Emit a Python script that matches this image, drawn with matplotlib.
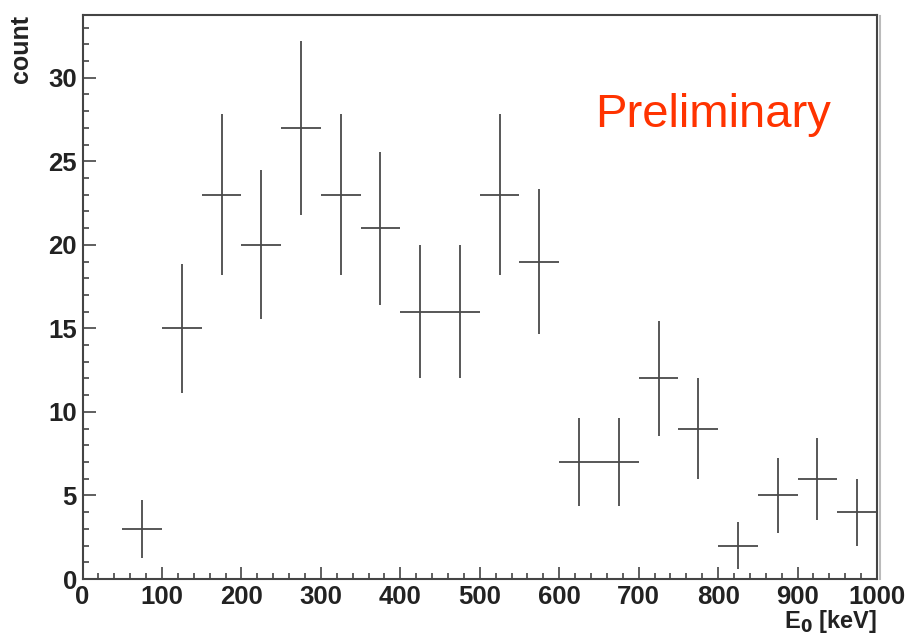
import matplotlib
matplotlib.use("Agg")
import matplotlib.pyplot as plt
from matplotlib.ticker import MultipleLocator

# bin centres [keV], counts, and errors
energy = [75, 125, 175, 225, 275, 325, 375, 425, 475, 525,
          575, 625, 675, 725, 775, 825, 875, 925, 975]
counts = [3, 15, 23, 20, 27, 23, 21, 16, 16, 23,
          19, 7, 7, 12, 9, 2, 5, 6, 4]
errors = [1.73, 3.87, 4.80, 4.47, 5.20, 4.80, 4.58, 4.00, 4.00, 4.80,
          4.36, 2.65, 2.65, 3.46, 3.00, 1.41, 2.24, 2.45, 2.00]
bin_half = [25] * len(energy)

plt.rcParams['font.family'] = ['Liberation Sans', 'DejaVu Sans']

fig = plt.figure(figsize=(9.06, 6.36), dpi=100)
ax = fig.add_axes([0.0911, 0.0896, 0.8769, 0.8868])

ax.errorbar(energy, counts, yerr=errors, xerr=bin_half, fmt='none',
            ecolor='#4a4a4a', elinewidth=1.3, capsize=0)

ax.set_xlim(0, 1000)
ax.set_ylim(0, 33.75)
ax.xaxis.set_major_locator(MultipleLocator(100))
ax.xaxis.set_minor_locator(MultipleLocator(20))
ax.yaxis.set_major_locator(MultipleLocator(5))
ax.yaxis.set_minor_locator(MultipleLocator(1))

ax.tick_params(which='both', direction='in', color='#444444', width=1.2,
               top=False, right=False)
ax.tick_params(which='major', length=9, labelsize=18.5, pad=4)
ax.tick_params(which='minor', length=4.5)
for lab in ax.get_xticklabels() + ax.get_yticklabels():
    lab.set_fontweight('bold')
    lab.set_color('#222222')

for s in ax.spines.values():
    s.set_color('#444444')
    s.set_linewidth(1.5)
# light shadow on right edge of frame (ROOT style)
ax.plot([1.004, 1.004], [0, 0.998], transform=ax.transAxes, color='#bbbbbb',
        lw=1.5, clip_on=False)

ax.set_ylabel('count', fontsize=18, fontweight='bold', color='#222222')
ax.yaxis.set_label_coords(-0.062, 1.0)
ax.yaxis.label.set_ha('right')

ax.set_xlabel(r'E$_{\mathbf{0}}$ [keV]', fontsize=17, fontweight='bold', color='#222222')
ax.xaxis.set_label_coords(1.0, -0.052)
ax.xaxis.label.set_ha('right')

ax.text(0.645, 0.801, 'Preliminary', transform=ax.transAxes, fontsize=34,
        color='#ff3300', ha='left', va='baseline')

fig.savefig('out.png', dpi=100)
